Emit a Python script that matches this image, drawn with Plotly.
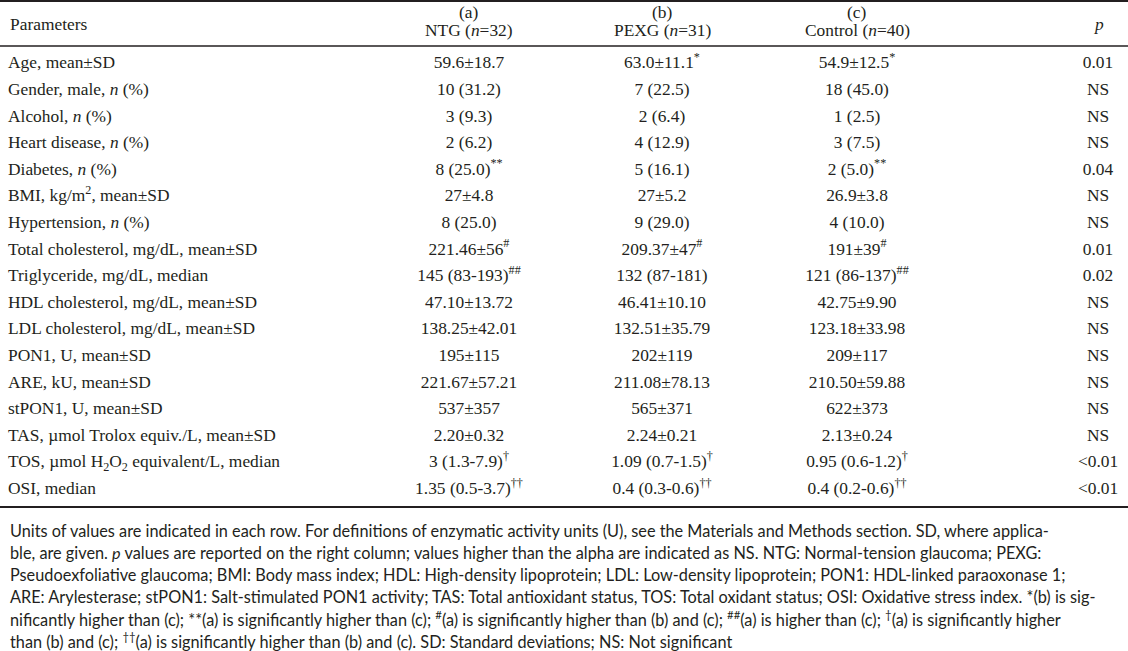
import plotly.graph_objects as go

W, H = 1128, 651

# ---- data ----
parameters = [
    "Age, mean±SD",
    "Gender, male, <i>n</i> (%)",
    "Alcohol, <i>n</i> (%)",
    "Heart disease, <i>n</i> (%)",
    "Diabetes, <i>n</i> (%)",
    "BMI, kg/m<sup>2</sup>, mean±SD",
    "Hypertension, <i>n</i> (%)",
    "Total cholesterol, mg/dL, mean±SD",
    "Triglyceride, mg/dL, median",
    "HDL cholesterol, mg/dL, mean±SD",
    "LDL cholesterol, mg/dL, mean±SD",
    "PON1, U, mean±SD",
    "ARE, kU, mean±SD",
    "stPON1, U, mean±SD",
    "TAS, µmol Trolox equiv./L, mean±SD",
    "TOS, µmol H<sub>2</sub>O<sub>2</sub> equivalent/L, median",
    "OSI, median",
]

ntg = ["59.6±18.7", "10 (31.2)", "3 (9.3)", "2 (6.2)", "8 (25.0)<sup>**</sup>", "27±4.8",
       "8 (25.0)", "221.46±56<sup>#</sup>", "145 (83-193)<sup>##</sup>", "47.10±13.72",
       "138.25±42.01", "195±115", "221.67±57.21", "537±357", "2.20±0.32",
       "3 (1.3-7.9)<sup>†</sup>", "1.35 (0.5-3.7)<sup>††</sup>"]
pexg = ["63.0±11.1<sup>*</sup>", "7 (22.5)", "2 (6.4)", "4 (12.9)", "5 (16.1)", "27±5.2",
        "9 (29.0)", "209.37±47<sup>#</sup>", "132 (87-181)", "46.41±10.10",
        "132.51±35.79", "202±119", "211.08±78.13", "565±371", "2.24±0.21",
        "1.09 (0.7-1.5)<sup>†</sup>", "0.4 (0.3-0.6)<sup>††</sup>"]
control = ["54.9±12.5<sup>*</sup>", "18 (45.0)", "1 (2.5)", "3 (7.5)", "2 (5.0)<sup>**</sup>", "26.9±3.8",
           "4 (10.0)", "191±39<sup>#</sup>", "121 (86-137)<sup>##</sup>", "42.75±9.90",
           "123.18±33.98", "209±117", "210.50±59.88", "622±373", "2.13±0.24",
           "0.95 (0.6-1.2)<sup>†</sup>", "0.4 (0.2-0.6)<sup>††</sup>"]
pvals = ["0.01", "NS", "NS", "NS", "0.04", "NS", "NS", "0.01", "0.02", "NS", "NS",
         "NS", "NS", "NS", "NS", "&lt;0.01", "&lt;0.01"]

header_top = ["", "(a)", "(b)", "(c)", ""]
header_bottom = ["Parameters", "NTG (<i>n</i>=32)", "PEXG (<i>n</i>=31)", "Control (<i>n</i>=40)", "<i>p</i>"]

footnote = [
    "Units of values are indicated in each row. For definitions of enzymatic activity units (U), see the Materials and Methods section. SD, where applica-",
    "ble, are given. <i>p</i> values are reported on the right column; values higher than the alpha are indicated as NS. NTG: Normal-tension glaucoma; PEXG:",
    "Pseudoexfoliative glaucoma; BMI: Body mass index; HDL: High-density lipoprotein; LDL: Low-density lipoprotein; PON1: HDL-linked paraoxonase 1;",
    "ARE: Arylesterase; stPON1: Salt-stimulated PON1 activity; TAS: Total antioxidant status, TOS: Total oxidant status; OSI: Oxidative stress index. *(b) is sig-",
    "nificantly higher than (c); **(a) is significantly higher than (c); <sup>#</sup>(a) is significantly higher than (b) and (c); <sup>##</sup>(a) is higher than (c); <sup>†</sup>(a) is significantly higher",
    "than (b) and (c); <sup>††</sup>(a) is significantly higher than (b) and (c). SD: Standard deviations; NS: Not significant",
]

# ---- layout constants ----
TXT = "#231f20"
SERIF = "Liberation Serif"
SANS = "Lato"
FS = 17.4
col_x = [8, 469, 662, 857, 1098]
row0_px = 64.0
row_step = 26.6
n = len(parameters)

fig = go.Figure()

y_top = -row0_px / row_step
y_bot = (H - row0_px) / row_step
rows = list(range(n))

fig.add_trace(go.Scatter(x=[col_x[0]] * n, y=rows, text=parameters, mode="text",
                         textposition="middle right",
                         textfont=dict(family=SERIF, size=FS, color=TXT),
                         hoverinfo="skip", showlegend=False))
for cx, vals in zip(col_x[1:], [ntg, pexg, control, pvals]):
    fig.add_trace(go.Scatter(x=[cx] * n, y=rows, text=vals, mode="text",
                             textposition="middle center",
                             textfont=dict(family=SERIF, size=FS, color=TXT),
                             hoverinfo="skip", showlegend=False))


def px2y(py):
    return (py - row0_px) / row_step


# header
for i, cx in enumerate(col_x):
    anchor = "left" if i == 0 else "center"
    if header_top[i]:
        fig.add_annotation(x=cx, y=px2y(12), text=header_top[i], showarrow=False,
                           xanchor=anchor, yanchor="middle",
                           font=dict(family=SERIF, size=FS, color=TXT))
        fig.add_annotation(x=cx, y=px2y(30), text=header_bottom[i], showarrow=False,
                           xanchor=anchor, yanchor="middle",
                           font=dict(family=SERIF, size=FS, color=TXT))
    else:
        fig.add_annotation(x=cx, y=px2y(24), text=header_bottom[i], showarrow=False,
                           xanchor=anchor, yanchor="middle",
                           font=dict(family=SERIF, size=FS, color=TXT))

# rules
for py, w in [(1.0, 1.8), (46.0, 1.3), (507.0, 1.8)]:
    fig.add_shape(type="line", x0=0, x1=W, y0=px2y(py), y1=px2y(py),
                  xref="x", yref="y", line=dict(color=TXT, width=w))

# footnote
for k, line in enumerate(footnote):
    fig.add_annotation(x=8, y=px2y(530 + k * 22.0), text=line, showarrow=False,
                       xanchor="left", yanchor="middle",
                       font=dict(family=SANS, size=16.3, color=TXT))

fig.update_layout(
    width=W, height=H,
    margin=dict(l=0, r=0, t=0, b=0),
    paper_bgcolor="white", plot_bgcolor="white",
    xaxis=dict(range=[0, W], visible=False, fixedrange=True),
    yaxis=dict(range=[y_bot, y_top], visible=False, fixedrange=True),
)

fig.write_html("out.html", config={"displayModeBar": False},
               post_script="document.body.style.margin='0px';")
